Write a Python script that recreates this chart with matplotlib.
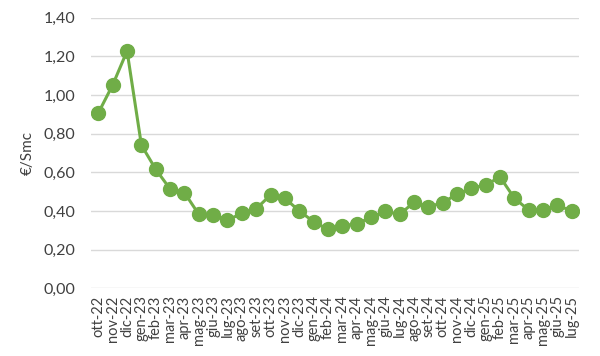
import matplotlib
matplotlib.use("Agg")
import matplotlib.pyplot as plt
from matplotlib.ticker import FuncFormatter

plt.rcParams["font.family"] = ["Lato", "DejaVu Sans"]

GREEN = "#70AD47"
GRID = "#D9D9D9"
TEXT = "#404040"

months = [
    "ott-22", "nov-22", "dic-22", "gen-23", "feb-23", "mar-23", "apr-23",
    "mag-23", "giu-23", "lug-23", "ago-23", "set-23", "ott-23", "nov-23",
    "dic-23", "gen-24", "feb-24", "mar-24", "apr-24", "mag-24", "giu-24",
    "lug-24", "ago-24", "set-24", "ott-24", "nov-24", "dic-24", "gen-25",
    "feb-25", "mar-25", "apr-25", "mag-25", "giu-25", "lug-25",
]
prices = [
    0.908, 1.053, 1.228, 0.741, 0.616, 0.514, 0.495,
    0.383, 0.381, 0.353, 0.388, 0.412, 0.483, 0.466,
    0.401, 0.345, 0.305, 0.324, 0.334, 0.367, 0.398,
    0.383, 0.445, 0.422, 0.443, 0.488, 0.517, 0.536,
    0.576, 0.466, 0.405, 0.407, 0.429, 0.401,
]
yticks = [0.0, 0.2, 0.4, 0.6, 0.8, 1.0, 1.2, 1.4]

fig = plt.figure(figsize=(6, 3.56), dpi=100)
ax = fig.add_axes([0.152, 0.190, 0.813, 0.760])

x = list(range(len(months)))
ax.plot(x, prices, color=GREEN, linewidth=2.2, marker="o", markersize=10,
        markerfacecolor=GREEN, markeredgecolor=GREEN, zorder=3)

ax.set_xlim(-0.5, len(months) - 0.5)
ax.set_ylim(0, 1.4)
ax.set_yticks(yticks)
ax.yaxis.set_major_formatter(FuncFormatter(lambda v, _: f"{v:.2f}".replace(".", ",")))
ax.set_xticks(x)
ax.set_xticklabels(months, rotation=90)

ax.grid(axis="y", color=GRID, linewidth=1)
ax.set_axisbelow(True)
for s in ax.spines.values():
    s.set_visible(False)
ax.tick_params(axis="both", length=0, colors=TEXT)
ax.tick_params(axis="y", labelsize=11.5, pad=11.5)
ax.tick_params(axis="x", labelsize=10.5, pad=5)

ax.set_ylabel("€/Smc", fontsize=11, color=TEXT, labelpad=6)

fig.savefig("out.png", dpi=100, facecolor="white")
